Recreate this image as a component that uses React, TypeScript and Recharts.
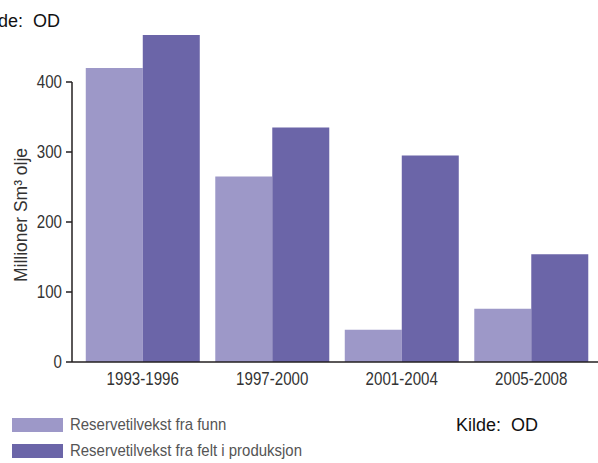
import React from 'react';
import { BarChart, Bar, XAxis, YAxis, Legend } from 'recharts';

const categories = ['1993-1996', '1997-2000', '2001-2004', '2005-2008'];
const funn = [420, 265, 46, 76];
const felt = [467, 335, 295, 154];
const yTicks = [0, 100, 200, 300, 400];
const seriesNames = ['Reservetilvekst fra funn', 'Reservetilvekst fra felt i produksjon'];
const source = 'Kilde:  OD';

const LIGHT = '#9d98c8';
const DARK = '#6b65a8';
const FONT = '"Liberation Sans", Arial, sans-serif';
const SX = 0.84;

const data = categories.map((c, i) => ({ name: c, funn: funn[i], felt: felt[i] }));

const YLabel = (props: any) => {
  const vb = props.viewBox || {};
  const cx = 20;
  const cy = vb.y + vb.height / 2 - 7;
  return (
    <text
      x={0}
      y={0}
      transform={`translate(${cx}, ${cy}) rotate(-90) scale(0.92, 1)`}
      textAnchor="middle"
      dominantBaseline="central"
      fontFamily={FONT}
      fontSize={19}
      fill="#333"
    >
      Millioner Sm³ olje
    </text>
  );
};

const XTick = (props: any) => {
  const { x, y, payload } = props;
  return (
    <text
      x={0}
      y={0}
      dy="0.71em"
      transform={`translate(${x}, ${y}) scale(${SX}, 1)`}
      textAnchor="middle"
      fontFamily={FONT}
      fontSize={18}
      fill="#333"
    >
      {payload.value}
    </text>
  );
};

const YTick = (props: any) => {
  const { x, y, payload } = props;
  return (
    <text
      x={0}
      y={0}
      dy="0.355em"
      transform={`translate(${x}, ${y}) scale(${SX}, 1)`}
      textAnchor="end"
      fontFamily={FONT}
      fontSize={18}
      fill="#333"
    >
      {payload.value}
    </text>
  );
};

const LegendContent = () => (
  <div style={{ fontFamily: FONT, fontSize: 17, color: '#555' }}>
    {[LIGHT, DARK].map((col, i) => (
      <div key={i} style={{ display: 'flex', alignItems: 'center', height: 26 }}>
        <div style={{ width: 51, height: 14, background: col, marginLeft: 12, marginRight: 7, flex: 'none' }} />
        <span style={{ display: 'inline-block', transform: 'scaleX(0.88)', transformOrigin: 'left center', whiteSpace: 'nowrap' }}>
          {seriesNames[i]}
        </span>
      </div>
    ))}
  </div>
);

export default function App() {
  return (
    <div className="chart-wrap" style={{ position: 'absolute', left: 0, top: 0, width: 598, height: 463, background: '#fff', overflow: 'hidden' }}>
      <style>{`.chart-wrap .recharts-bar, .chart-wrap .recharts-bar * { clip-path: none !important; }`}</style>
      <BarChart
        width={598}
        height={463}
        data={data}
        margin={{ top: 82, right: 0, bottom: 71, left: 0 }}
        barGap={0}
        barCategoryGap="6%"
      >
        <XAxis
          dataKey="name"
          height={30}
          padding={{ left: 6, right: 2 }}
          tickLine={false}
          tickSize={6}
          tickMargin={4}
          axisLine={{ stroke: '#231f20', strokeWidth: 1.5 }}
          tick={<XTick />}
        />
        <YAxis
          width={72}
          domain={[0, 400]}
          allowDataOverflow={true}
          ticks={yTicks}
          interval={0}
          tickSize={6}
          tickMargin={4}
          axisLine={{ stroke: '#231f20', strokeWidth: 1.5 }}
          tickLine={{ stroke: '#231f20', strokeWidth: 1.5 }}
          tick={<YTick />}
          label={<YLabel />}
        />
        <Legend
          verticalAlign="middle"
          align="center"
          layout="horizontal"
          content={<LegendContent />}
          wrapperStyle={{ left: 0, top: 412, width: 400 }}
        />
        <Bar dataKey="funn" name={seriesNames[0]} fill={LIGHT} isAnimationActive={false} />
        <Bar dataKey="felt" name={seriesNames[1]} fill={DARK} isAnimationActive={false} />
      </BarChart>
      <div style={{ position: 'absolute', left: -22, top: 11, fontFamily: FONT, fontSize: 18, color: '#111', whiteSpace: 'pre' }}>
        {source}
      </div>
      <div style={{ position: 'absolute', left: 456, top: 415, fontFamily: FONT, fontSize: 18, color: '#111', whiteSpace: 'pre' }}>
        {source}
      </div>
    </div>
  );
}
